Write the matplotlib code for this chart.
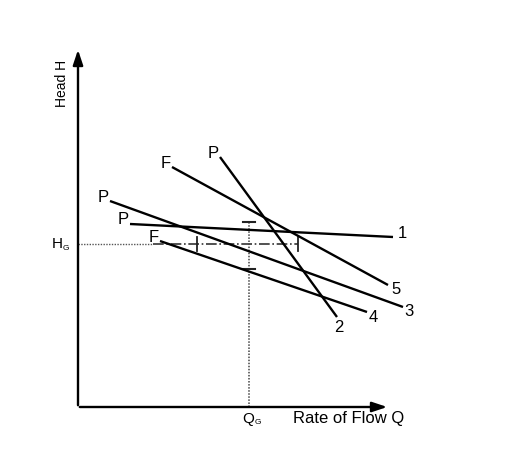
import matplotlib
matplotlib.use("Agg")
import matplotlib.pyplot as plt

plt.rcParams['font.family'] = ['Liberation Sans', 'DejaVu Sans']

# Characteristic lines (Q, H) start -> end, with labels
line_ids = ["1", "2", "3", "4", "5"]
start_labels = ["P", "P", "P", "F", "F"]
q_start = [52, 142, 32, 82, 94]
h_start = [183, 250, 206, 166, 240]
q_end = [315, 259, 325, 289, 310]
h_end = [170, 90, 100, 95, 122]

# label offsets from line ends (style)
end_dx = [9, 2, 6, 6, 8]
end_dy = [3, -11, -5, -6, -5]

# Operating point
Q_G = 171
H_G = 163
hg_ticks_q = [119, 220]
qg_ticks_h = [185, 138]

Q_MAX = 312
H_MAX = 360

fig = plt.figure(figsize=(5.26, 4.5), dpi=100)
ax = fig.add_axes([0, 0, 1, 1])
ax.set_xlim(-78, 448)
ax.set_ylim(-43, 407)
ax.axis('off')

# axes with arrows
ax.annotate('', xy=(Q_MAX, 0), xytext=(-1, 0),
            arrowprops=dict(arrowstyle='-|>,head_length=0.9,head_width=0.3', color='black', lw=1.7))
ax.annotate('', xy=(0, H_MAX), xytext=(0, -1),
            arrowprops=dict(arrowstyle='-|>,head_length=0.9,head_width=0.3', color='black', lw=1.7))

ax.text(-16, 324, 'Head H', rotation=90, ha='center', va='center', fontsize=10)
ax.text(215, -12, 'Rate of Flow Q', ha='left', va='center', fontsize=12)

# Q_G label
ax.text(Q_G - 1, -12, 'Q', ha='center', va='center', fontsize=11)
ax.text(Q_G + 9, -16, 'G', ha='center', va='center', fontsize=6)
# H_G label
ax.text(-21, H_G, 'H', ha='center', va='center', fontsize=11)
ax.text(-12, H_G - 4, 'G', ha='center', va='center', fontsize=6)

# operating point guide lines
ax.plot([0, 75], [H_G, H_G], color='#555555', lw=1.0, linestyle=(0, (1, 1)))
ax.plot([75, hg_ticks_q[1]], [H_G, H_G], color='#333333', lw=1.2, linestyle='-.')
ax.plot([Q_G, Q_G], [0, qg_ticks_h[0]], color='#444444', lw=1.1, linestyle=(0, (1, 1)))
for q in hg_ticks_q:
    ax.plot([q, q], [H_G - 7, H_G + 7], color='#222222', lw=1.3)
for h in qg_ticks_h:
    ax.plot([Q_G - 6, Q_G + 6], [h, h], color='#222222', lw=1.5)

# characteristic lines
for lid, sl, qs, hs, qe, he, dx, dy in zip(line_ids, start_labels, q_start, h_start,
                                          q_end, h_end, end_dx, end_dy):
    ax.plot([qs, qe], [hs, he], color='black', lw=1.7, solid_capstyle='butt')
    ax.text(qs - 1, hs + 4, sl, ha='right', va='center', fontsize=12)
    ax.text(qe + dx, he + dy, lid, ha='center', va='center', fontsize=12)

fig.savefig('out.png', dpi=100, facecolor='white')
